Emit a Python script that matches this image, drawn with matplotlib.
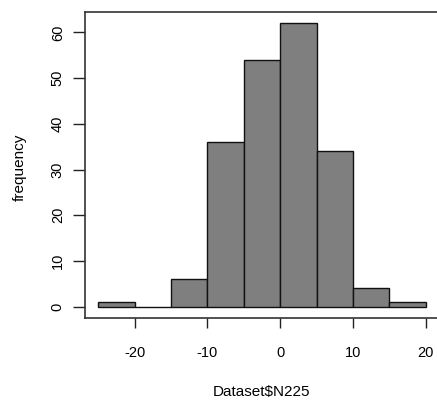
import matplotlib
matplotlib.use("Agg")
import matplotlib.pyplot as plt

# histogram of Dataset$N225, bins of width 5
bin_edges = [-25, -20, -15, -10, -5, 0, 5, 10, 15, 20]
counts = [1, 0, 6, 36, 54, 62, 34, 4, 1]
x_ticks = [-20, -10, 0, 10, 20]
y_ticks = [0, 10, 20, 30, 40, 50, 60]

plt.rcParams['font.family'] = ['Liberation Sans', 'DejaVu Sans']

fig = plt.figure(figsize=(4.37, 4.01), dpi=100)
ax = fig.add_axes([85 / 437, 83 / 401, 354 / 437, 306 / 401])

widths = [b - a for a, b in zip(bin_edges[:-1], bin_edges[1:])]
ax.bar(bin_edges[:-1], counts, width=widths, align="edge",
       color="#7f7f7f", edgecolor="#111111", linewidth=1.0)

# R-style 4% padding
xr = bin_edges[-1] - bin_edges[0]
ax.set_xlim(bin_edges[0] - 0.04 * xr, bin_edges[-1] + 0.04 * xr)
ymax = max(counts)
ax.set_ylim(-0.04 * ymax, ymax * 1.04)

ax.set_xticks(x_ticks)
ax.set_yticks(y_ticks)
ax.set_xticklabels([str(t) for t in x_ticks])
ax.set_yticklabels([str(t) for t in y_ticks], rotation=90, va="center")
ax.tick_params(axis="x", length=7, width=1, pad=13, labelsize=10.5, color="#222222")
ax.tick_params(axis="y", length=8.5, width=1, pad=6, labelsize=10.5, color="#222222")

for s in ax.spines.values():
    s.set_color("#333333")
    s.set_linewidth(1.2)

fig.text(261 / 437, 1 - 392 / 401, "Dataset$N225",
         ha="center", va="center", fontsize=11)
fig.text(20 / 437, 1 - 167 / 401, "frequency", rotation=90,
         ha="center", va="center", fontsize=11)

fig.savefig("out.png", dpi=100)
